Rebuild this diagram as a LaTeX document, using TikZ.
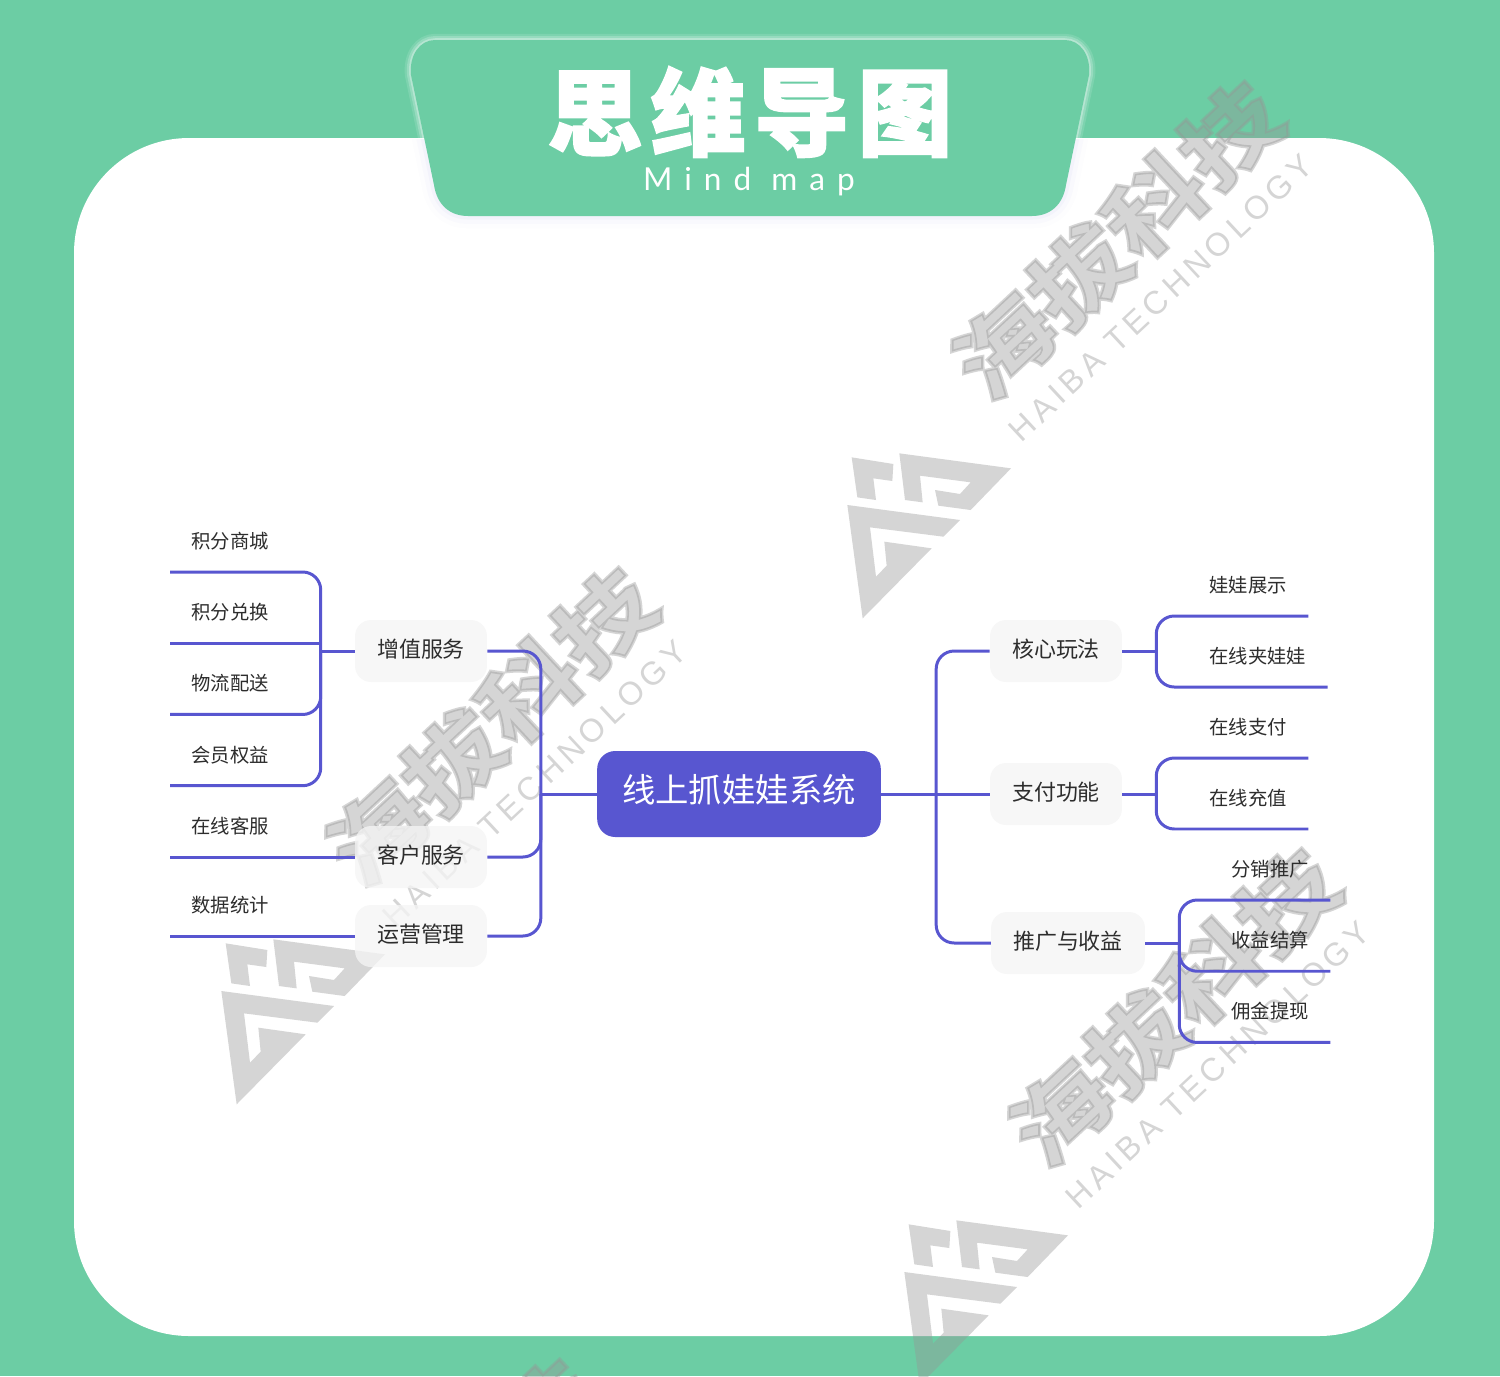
\documentclass[tikz,border=0pt]{standalone}
\usepackage{fontspec}
\setmainfont{Noto Sans CJK SC}
\newfontfamily\markfont[BoldFeatures={FakeBold=3.5}]{Noto Sans CJK SC}
\newfontfamily\markfontlat[LetterSpace=15]{Liberation Sans}
\newfontfamily\mapfont[LetterSpace=38]{Lato}
\newfontfamily\headfont[LetterSpace=9,BoldFeatures={LetterSpace=9,FakeBold=2}]{Noto Sans CJK SC}
\usetikzlibrary{positioning}
\definecolor{mintbg}{RGB}{108,205,164}
\definecolor{linkblue}{RGB}{88,86,208}
\definecolor{markgray}{RGB}{150,150,150}
\definecolor{topicbg}{RGB}{245,245,245}
\definecolor{inkgray}{RGB}{45,45,45}
\tikzset{
	x=0.02cm, y=-0.02cm, % one unit is one pixel of the picture
	link/.style={draw=linkblue, line width=1.7pt, rounded corners=0.36cm}, % blue branches
	root/.style={fill=linkblue, rounded corners=0.36cm, text=white, font=\fontsize{19}{19}\selectfont, minimum height=1.72cm, inner xsep=0.5cm, text height=15pt, text depth=5.2pt},
	topic/.style={fill=topicbg, fill opacity=.78, text opacity=1, rounded corners=0.32cm, text=inkgray, font=\fontsize{12.5}{13}\selectfont, minimum height=1.24cm, inner xsep=0.44cm, text height=10pt, text depth=2.8pt},
	leaf/.style={text=inkgray, font=\fontsize{11}{12}\selectfont, minimum height=1.24cm, inner xsep=0.43cm, inner ysep=0pt, outer sep=0pt},
	stack/.style={below=0.185cm of #1}, % next leaf under the one before
	haibamark/.pic={
		\begin{scope}[scale=1/3, fill=markgray, opacity=.4]
			\fill (35,37) -- (160,57) -- (157,108) -- (100,100) -- (108,165) -- (52,157) -- cycle;
			\fill (178,25) -- (513,70) -- (392,195) -- (295,182) -- (285,135) -- (360,147) -- (392,112) -- (240,92) -- (248,172) -- (195,165) -- cycle;
			\fill (22,180) -- (360,225) -- (310,275) -- (90,247) -- (108,395) -- (140,362) -- (133,290) -- (275,310) -- (68,520) -- cycle;
		\end{scope}
		\node[text=markgray, opacity=.4, rotate=43, xscale=1.03, yscale=.86, font=\markfont\bfseries\fontsize{57}{57}\selectfont] (-zh) at (277,-205) {海拔科技};
		\node[text=markgray, opacity=.4, rotate=43, font=\markfontlat\fontsize{18.5}{19}\selectfont] (-en) at (321,-147) {HAIBA TECHNOLOGY};
	},
}

\begin{document}
\begin{tikzpicture}
	\useasboundingbox (0,0) rectangle (1500,1376);
	\fill[mintbg] (0,0) rectangle (1500,1376);
	\fill[white, rounded corners=2.3cm] (74,138) rectangle (1434,1336);
	% banner with its soft edge
	\def\bannerpath{(411,75) -- (434,185) .. controls (437,205) and (450,216) .. (468,216) -- (1032,216) .. controls (1050,216) and (1063,205) .. (1066,185) -- (1089,75) .. controls (1091,55) and (1080,40) .. (1065,40) -- (435,40) .. controls (420,40) and (409,55) .. (411,75) -- cycle}
	\begin{scope}
		\clip (0,139) rectangle (1500,300);
		\draw[linkblue, opacity=.012, line width=14pt] \bannerpath;
		\draw[linkblue, opacity=.02, line width=9pt] \bannerpath;
		\draw[linkblue, opacity=.03, line width=4pt] \bannerpath;
	\end{scope}
	\begin{scope}
		\clip (0,0) rectangle (1500,138);
		\draw[white, opacity=.12, line width=7pt] \bannerpath;
		\draw[white, opacity=.2, line width=4.5pt] \bannerpath;
		\draw[white, opacity=.3, line width=2pt] \bannerpath;
	\end{scope}
	\fill[mintbg] \bannerpath;
	\node[text=white, font=\headfont\bfseries\fontsize{54}{54}\selectfont] (headzh) at (750,112) {思维导图};
	\node[text=white, font=\mapfont\fontsize{18}{18}\selectfont] (headen) at (749,182) {Mind map};
	% watermarks
	\begin{scope}
		\clip (0,0) rectangle (1500,1376);
		\pic (marka) at (840,445) {haibamark};
		\pic (markb) at (214,931) {haibamark};
		\pic (markc) at (897,1212) {haibamark};
		\pic (markd) at (155,1723) {haibamark};
	\end{scope}
	% middle
	\node[root] (sys) at (739,794) {线上抓娃娃系统};
	\node[topic] (zengzhi) at (421,651) {增值服务};
	\node[topic] (kehu) at (421,857) {客户服务};
	\node[topic] (yunying) at (421,936) {运营管理};
	\node[topic] (hexin) at (1056,651) {核心玩法};
	\node[topic] (zhifu) at (1056,794) {支付功能};
	\node[topic] (tuiguang) at (1068,943) {推广与收益};
	% left leaves
	\node[leaf, anchor=south west] at (170,572) (jfsc) {积分商城};
	\node[leaf, stack=jfsc] (jfdh) {积分兑换};
	\node[leaf, stack=jfdh] (wlps) {物流配送};
	\node[leaf, stack=wlps] (hyqy) {会员权益};
	\node[leaf, anchor=south west] at (170,857) (zxkf) {在线客服};
	\node[leaf, anchor=south west] at (170,936) (sjtj) {数据统计};
	% right leaves
	\node[leaf, anchor=south west] at (1188,616) (wwzs) {娃娃展示};
	\node[leaf, anchor=south west] at (1188,687) (zxjww) {在线夹娃娃};
	\node[leaf, anchor=south west] at (1188,758) (zxzf) {在线支付};
	\node[leaf, below=0.18cm of zxzf] (zxcz) {在线充值};
	\node[leaf, anchor=south west] at (1210,900) (fxtg) {分销推广};
	\node[leaf, stack=fxtg] (syjs) {收益结算};
	\node[leaf, stack=syjs] (yjtx) {佣金提现};
	% joints
	\coordinate (sysl) at ([xshift=-1.12cm]sys.west);
	\coordinate (sysr) at ([xshift=1.1cm]sys.east);
	\coordinate (zengzhil) at ([xshift=-0.68cm]zengzhi.west);
	\coordinate (hexinr) at ([xshift=0.68cm]hexin.east);
	\coordinate (zhifur) at ([xshift=0.68cm]zhifu.east);
	\coordinate (tuiguangr) at ([xshift=0.68cm]tuiguang.east);
	% branches
	\draw[link] (sys.west) -- (sysl);
	\draw[link] (sysl) |- (zengzhi.east);
	\draw[link] (sysl) |- (kehu.east);
	\draw[link] (sysl) |- (yunying.east);
	\draw[link] (sys.east) -- (zhifu.west);
	\draw[link] (sysr) |- (hexin.west);
	\draw[link] (sysr) |- (tuiguang.west);
	\draw[link] (zengzhi.west) -- (zengzhil);
	\draw[link] (zengzhil) |- (jfsc.south west);
	\draw[link, rounded corners=0pt] (zengzhil) |- (jfdh.south west);
	\draw[link] (zengzhil) |- (wlps.south west);
	\draw[link] (zengzhil) |- (hyqy.south west);
	\draw[link] (kehu.west) -- (zxkf.south west);
	\draw[link] (yunying.west) -- (sjtj.south west);
	\draw[link] (hexin.east) -- (hexinr);
	\draw[link] (hexinr) |- (wwzs.south east);
	\draw[link] (hexinr) |- (zxjww.south east);
	\draw[link] (zhifu.east) -- (zhifur);
	\draw[link] (zhifur) |- (zxzf.south east);
	\draw[link] (zhifur) |- (zxcz.south east);
	\draw[link] (tuiguang.east) -- (tuiguangr);
	\draw[link] (tuiguangr) |- (fxtg.south east);
	\draw[link] (tuiguangr) |- (syjs.south east);
	\draw[link] (tuiguangr) |- (yjtx.south east);
\end{tikzpicture}
\end{document}
